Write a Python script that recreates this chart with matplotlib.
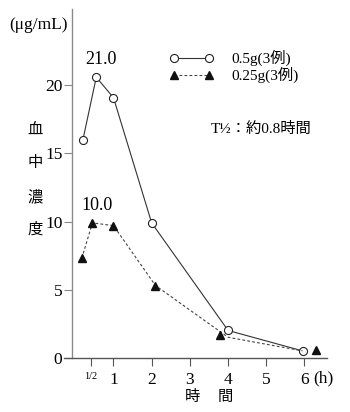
import matplotlib
matplotlib.use("Agg")
import matplotlib.pyplot as plt
from matplotlib.lines import Line2D

plt.rcParams['font.family'] = ['Liberation Serif', 'Noto Sans CJK JP']

# 0.5g (3例)
high_t = [0.2, 0.55, 1.0, 2.0, 4.0, 5.95]
high_c = [16.0, 20.6, 19.1, 9.9, 2.0, 0.5]

# 0.25g (3例): line path and marker positions (markers drawn slightly offset)
low_line_t = [0.17, 0.45, 1.0, 2.1, 4.0, 5.95]
low_line_c = [7.3, 9.9, 9.7, 5.3, 1.5, 0.5]
low_mark_t = [0.17, 0.45, 1.0, 2.1, 3.8, 6.3]
low_mark_c = [7.3, 9.9, 9.7, 5.3, 1.7, 0.6]

xticks = [0.4, 1, 2, 3, 4, 5, 6]
xtick_labels = ["1/2", "1", "2", "3", "4", "5", "6"]
yticks = [0, 5, 10, 15, 20]

peak_labels = [("21.0", 0.67, 21.9), ("10.0", 0.57, 11.2)]

fig = plt.figure(figsize=(3.5, 4.12), dpi=100)
ax = fig.add_axes([0.1823, 0.1318, 0.7531, 0.846])
ax.set_xlim(-0.3, 6.6)
ax.set_ylim(0, 25.6)

gray = "#8a8a8a"
for s in ["top", "right"]:
    ax.spines[s].set_visible(False)
ax.spines["left"].set_position(("data", -0.08))
ax.spines["left"].set_color(gray)
ax.spines["bottom"].set_color("#555555")
ax.spines["left"].set_linewidth(1.0)
ax.spines["bottom"].set_linewidth(1.0)

ax.plot(high_t, high_c, color="#333333", lw=0.8, marker="o", ms=5.8,
        mfc="white", mec="#222222", mew=0.8)
ax.plot(low_line_t, low_line_c, color="#444444", lw=0.8, ls=(0, (2.5, 2)))
ax.plot(low_mark_t, low_mark_c, ls="none", marker="^", ms=5.5,
        color="#111111")

for txt, x, y in peak_labels:
    ax.text(x, y, txt, ha="center", va="center", fontsize=13)

ax.set_xticks(xticks)
ax.set_xticklabels(xtick_labels)
ax.set_yticks(yticks)
ax.tick_params(axis="x", direction="out", length=6, width=0.8, color="#555555",
               labelsize=12.5, pad=4)
ax.tick_params(axis="y", direction="out", length=6, width=0.8, color=gray,
               labelsize=12.5, pad=1)
ax.get_xticklabels()[0].set_fontsize(7.5)

ax.text(6.49, -1.5, "(h)", ha="center", va="center", fontsize=12.5)

# legend
h1 = Line2D([], [], color="#333333", lw=0.8, marker="o", ms=5.8,
            mfc="white", mec="#222222", mew=0.8)
h2 = Line2D([], [], color="#444444", lw=0.8, ls=(0, (2.5, 2)), marker="^",
            ms=5.5, mfc="#111111", mec="#111111")
leg = ax.legend([h1, h2], ["0.5g(3例)", "0.25g(3例)"], numpoints=2,
                loc="upper left", bbox_to_anchor=(0.37, 0.905),
                frameon=False, fontsize=11, handlelength=2.9,
                handletextpad=1.2, labelspacing=0.05, borderpad=0)
ax.text(4.86, 16.8, "T½：約0.8時間", ha="center", va="center", fontsize=11)

# axis labels
fig.text(39 / 350, 1 - 25 / 412, "(μg/mL)", ha="center", va="center", fontsize=12.5)
for i, ch in enumerate("血中濃度"):
    fig.text(35 / 350, 1 - (130 + 33.3 * i) / 412, ch, ha="center", va="center",
             fontsize=11)
fig.text(192 / 350, 1 - 397 / 412, "時", ha="center", va="center", fontsize=11)
fig.text(225 / 350, 1 - 397 / 412, "間", ha="center", va="center", fontsize=11)

fig.savefig("out.png", dpi=100, facecolor="white")
